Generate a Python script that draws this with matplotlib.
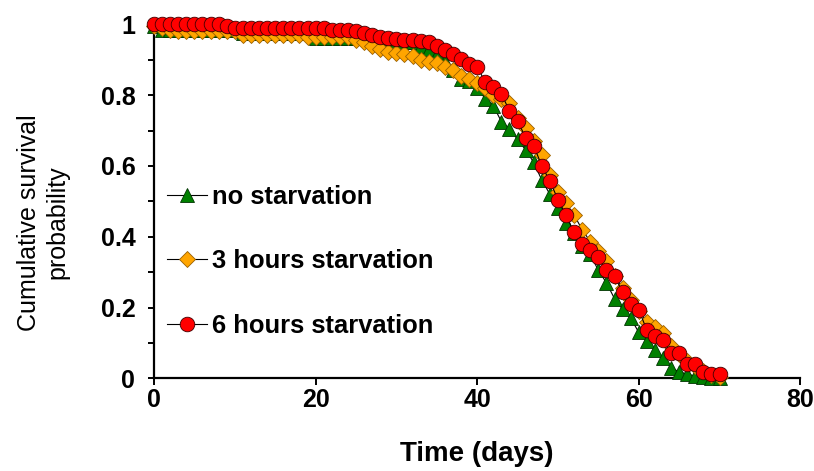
import matplotlib
matplotlib.use("Agg")
import matplotlib.pyplot as plt
from matplotlib.ticker import MultipleLocator, FuncFormatter

plt.rcParams["font.family"] = ["Liberation Sans", "DejaVu Sans"]

# -----------------------------
# Data
# -----------------------------

days = list(range(0, 71))

no_starvation = [
    0.995, 0.985, 0.985, 0.985, 0.985, 0.985, 0.985, 0.985, 0.985, 0.985,
    0.985, 0.975, 0.975, 0.975, 0.975, 0.975, 0.975, 0.975, 0.975, 0.975,
    0.96, 0.96, 0.96, 0.96, 0.96, 0.96, 0.96, 0.955, 0.95, 0.95,
    0.95, 0.95, 0.95, 0.94, 0.93, 0.915, 0.895, 0.87, 0.845, 0.84,
    0.82, 0.79, 0.77, 0.725, 0.705, 0.675, 0.645, 0.61, 0.56, 0.52,
    0.48, 0.44, 0.41, 0.375, 0.35, 0.305, 0.27, 0.225, 0.195, 0.17,
    0.13, 0.105, 0.08, 0.058, 0.03, 0.018, 0.012, 0.006, 0.005, 0.0,
    0.0,
]

starv_3h = [
    0.995, 0.99, 0.985, 0.98, 0.98, 0.98, 0.98, 0.98, 0.98, 0.98,
    0.98, 0.97, 0.97, 0.97, 0.97, 0.97, 0.97, 0.97, 0.97, 0.963,
    0.963, 0.963, 0.963, 0.963, 0.963, 0.955, 0.95, 0.94, 0.93, 0.922,
    0.918, 0.915, 0.91, 0.90, 0.893, 0.89, 0.88, 0.87, 0.855, 0.845,
    0.833, 0.82, 0.80, 0.79, 0.777, 0.735, 0.706, 0.67, 0.63, 0.575,
    0.527, 0.495, 0.461, 0.42, 0.386, 0.36, 0.33, 0.29, 0.255, 0.22,
    0.19, 0.16, 0.146, 0.127, 0.09, 0.07, 0.05, 0.035, 0.02, 0.01,
    0.005,
]

starv_6h = [
    1.0, 1.0, 1.0, 1.0, 1.0, 1.0, 1.0, 1.0, 1.0, 0.995,
    0.99, 0.99, 0.99, 0.99, 0.99, 0.99, 0.99, 0.99, 0.99, 0.99,
    0.99, 0.99, 0.985, 0.985, 0.983, 0.98, 0.975, 0.97, 0.965, 0.96,
    0.958, 0.956, 0.955, 0.953, 0.95, 0.94, 0.927, 0.917, 0.903, 0.889,
    0.88, 0.837, 0.823, 0.804, 0.755, 0.727, 0.68, 0.657, 0.60, 0.557,
    0.505, 0.46, 0.412, 0.38, 0.363, 0.343, 0.305, 0.288, 0.244, 0.211,
    0.194, 0.136, 0.119, 0.107, 0.071, 0.071, 0.04, 0.04, 0.018, 0.013,
    0.013,
]

labels = ["no starvation", "3 hours starvation", "6 hours starvation"]


# -----------------------------
# Plot
# -----------------------------

fig = plt.figure(figsize=(8.14, 4.71), dpi=100)
ax = fig.add_axes([0.1892, 0.1968, 0.794, 0.7516])

ax.plot(days, no_starvation, color="black", lw=0.8, marker="^", ms=10,
        mfc="#008000", mec="#003300", mew=0.6, label=labels[0],
        clip_on=False, zorder=3)
ax.plot(days, starv_3h, color="black", lw=0.8, marker="D", ms=8.5,
        mfc="#FFA500", mec="#996000", mew=0.6, label=labels[1],
        clip_on=False, zorder=4)
ax.plot(days, starv_6h, color="black", lw=0.8, marker="o", ms=10.5,
        mfc="#FF0000", mec="#400000", mew=0.6, label=labels[2],
        clip_on=False, zorder=5)

ax.set_xlim(0, 80)
ax.set_ylim(0, 1)

for side in ["top", "right"]:
    ax.spines[side].set_visible(False)
for side in ["left", "bottom"]:
    ax.spines[side].set_linewidth(1.6)

ax.xaxis.set_major_locator(MultipleLocator(20))
ax.yaxis.set_major_locator(MultipleLocator(0.2))
ax.yaxis.set_minor_locator(MultipleLocator(0.1))
ax.yaxis.set_major_formatter(FuncFormatter(lambda v, p: "%g" % round(v, 1)))

ax.tick_params(axis="both", which="both", direction="out", width=1.4)
ax.tick_params(axis="x", length=5, pad=2, labelsize=18)
ax.tick_params(axis="y", which="both", length=4.5, pad=9, labelsize=18)
for lab in ax.get_xticklabels() + ax.get_yticklabels():
    lab.set_fontweight("bold")

ax.set_xlabel("Time (days)", fontsize=20, fontweight="bold", labelpad=21)
fig.text(0.053, 0.528, "Cumulative survival\nprobability", rotation=90,
         ha="center", va="center", fontsize=18, linespacing=1.25)

ax.legend(loc="upper left", bbox_to_anchor=(0.005, 0.575), frameon=False,
          prop={"weight": "bold", "size": 18.4},
          handlelength=1.55, handletextpad=0.2, labelspacing=1.58,
          borderaxespad=0.0)

fig.savefig("out.png", dpi=100)
